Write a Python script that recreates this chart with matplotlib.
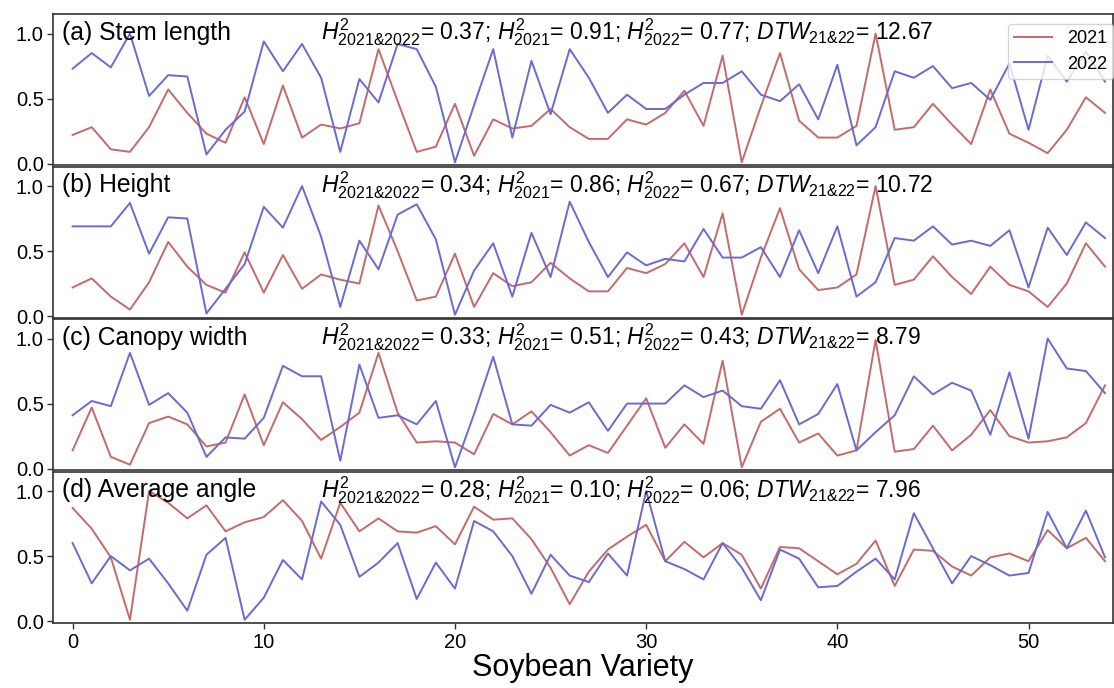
import numpy as np
import matplotlib
matplotlib.use("Agg")
import matplotlib.pyplot as plt

plt.rcParams["font.family"] = ["Liberation Sans", "DejaVu Sans"]
plt.rcParams["mathtext.fontset"] = "custom"
plt.rcParams["mathtext.rm"] = "Liberation Sans"
plt.rcParams["mathtext.it"] = "Liberation Sans:italic"
plt.rcParams["mathtext.bf"] = "Liberation Sans:bold"

variety = np.arange(55)

# Normalised trait values per soybean variety, 2021 vs 2022
stem_2021 = [0.22, 0.28, 0.11, 0.09, 0.28, 0.57, 0.39, 0.23, 0.16, 0.51,
             0.15, 0.60, 0.20, 0.30, 0.27, 0.31, 0.88, 0.48, 0.09, 0.13,
             0.46, 0.06, 0.34, 0.27, 0.29, 0.42, 0.28, 0.19, 0.19, 0.34,
             0.30, 0.39, 0.56, 0.29, 0.83, 0.01, 0.44, 0.85, 0.33, 0.20,
             0.20, 0.29, 1.00, 0.26, 0.28, 0.46, 0.30, 0.15, 0.57, 0.23,
             0.16, 0.08, 0.26, 0.51, 0.39]
stem_2022 = [0.73, 0.85, 0.74, 1.00, 0.52, 0.68, 0.67, 0.07, 0.26, 0.40,
             0.94, 0.71, 0.92, 0.66, 0.09, 0.65, 0.47, 0.92, 0.88, 0.59,
             0.01, 0.45, 0.88, 0.20, 0.79, 0.38, 0.88, 0.66, 0.39, 0.53,
             0.42, 0.42, 0.53, 0.62, 0.62, 0.71, 0.53, 0.48, 0.61, 0.34,
             0.76, 0.14, 0.28, 0.71, 0.66, 0.75, 0.58, 0.62, 0.49, 0.77,
             0.26, 0.83, 0.63, 0.86, 0.63]

height_2021 = [0.22, 0.29, 0.15, 0.05, 0.26, 0.57, 0.38, 0.24, 0.18, 0.49,
               0.18, 0.47, 0.21, 0.32, 0.28, 0.25, 0.85, 0.50, 0.12, 0.15,
               0.48, 0.07, 0.33, 0.23, 0.26, 0.41, 0.29, 0.19, 0.19, 0.37,
               0.33, 0.40, 0.56, 0.30, 0.79, 0.01, 0.45, 0.83, 0.36, 0.20,
               0.22, 0.32, 1.00, 0.24, 0.28, 0.46, 0.30, 0.17, 0.38, 0.24,
               0.19, 0.07, 0.25, 0.56, 0.38]
height_2022 = [0.69, 0.69, 0.69, 0.87, 0.48, 0.76, 0.75, 0.02, 0.21, 0.40,
               0.84, 0.68, 1.00, 0.61, 0.07, 0.58, 0.36, 0.78, 0.86, 0.59,
               0.01, 0.35, 0.56, 0.15, 0.64, 0.30, 0.88, 0.57, 0.30, 0.49,
               0.39, 0.44, 0.42, 0.67, 0.45, 0.45, 0.53, 0.30, 0.66, 0.33,
               0.69, 0.15, 0.26, 0.60, 0.58, 0.69, 0.55, 0.58, 0.54, 0.66,
               0.22, 0.68, 0.47, 0.72, 0.60]

canopy_2021 = [0.14, 0.47, 0.09, 0.03, 0.35, 0.40, 0.34, 0.17, 0.20, 0.57,
               0.18, 0.51, 0.38, 0.22, 0.32, 0.43, 0.89, 0.43, 0.20, 0.21,
               0.20, 0.11, 0.42, 0.34, 0.44, 0.28, 0.10, 0.18, 0.12, 0.33,
               0.54, 0.16, 0.34, 0.19, 0.83, 0.01, 0.36, 0.46, 0.20, 0.27,
               0.10, 0.14, 0.99, 0.13, 0.15, 0.33, 0.14, 0.26, 0.45, 0.25,
               0.20, 0.21, 0.24, 0.35, 0.64]
canopy_2022 = [0.41, 0.52, 0.48, 0.89, 0.49, 0.58, 0.43, 0.09, 0.24, 0.23,
               0.39, 0.79, 0.71, 0.71, 0.06, 0.80, 0.39, 0.41, 0.34, 0.52,
               0.01, 0.42, 0.86, 0.34, 0.33, 0.49, 0.43, 0.51, 0.29, 0.50,
               0.50, 0.50, 0.64, 0.55, 0.60, 0.48, 0.46, 0.68, 0.34, 0.42,
               0.65, 0.14, 0.28, 0.41, 0.71, 0.57, 0.66, 0.60, 0.26, 0.74,
               0.23, 1.00, 0.77, 0.75, 0.58]

angle_2021 = [0.87, 0.71, 0.49, 0.01, 1.00, 0.91, 0.79, 0.89, 0.69, 0.76,
              0.80, 0.93, 0.77, 0.48, 0.91, 0.69, 0.79, 0.69, 0.68, 0.73,
              0.59, 0.88, 0.78, 0.79, 0.63, 0.41, 0.13, 0.38, 0.55, 0.65,
              0.74, 0.46, 0.61, 0.49, 0.60, 0.51, 0.25, 0.57, 0.56, 0.46,
              0.36, 0.44, 0.62, 0.27, 0.55, 0.54, 0.42, 0.35, 0.49, 0.52,
              0.46, 0.70, 0.56, 0.64, 0.46]
angle_2022 = [0.60, 0.29, 0.50, 0.39, 0.48, 0.29, 0.08, 0.51, 0.64, 0.01,
              0.18, 0.47, 0.32, 0.92, 0.74, 0.34, 0.45, 0.60, 0.17, 0.45,
              0.25, 0.77, 0.69, 0.50, 0.21, 0.51, 0.35, 0.30, 0.52, 0.35,
              1.00, 0.46, 0.40, 0.32, 0.60, 0.41, 0.16, 0.55, 0.48, 0.26,
              0.27, 0.38, 0.48, 0.32, 0.83, 0.56, 0.29, 0.50, 0.43, 0.35,
              0.37, 0.84, 0.56, 0.85, 0.49]

panel_titles = ["(a) Stem length", "(b) Height", "(c) Canopy width", "(d) Average angle"]
h2_joint = ["0.37", "0.34", "0.33", "0.28"]
h2_2021 = ["0.91", "0.86", "0.51", "0.10"]
h2_2022 = ["0.77", "0.67", "0.43", "0.06"]
dtw = ["12.67", "10.72", "8.79", "7.96"]

series_2021 = [stem_2021, height_2021, canopy_2021, angle_2021]
series_2022 = [stem_2022, height_2022, canopy_2022, angle_2022]

color_2021 = "#c46a6a"
color_2022 = "#6a6ad2"

fig, axes = plt.subplots(4, 1, sharex=True, figsize=(11.14, 6.88), dpi=100)
fig.subplots_adjust(left=0.048, right=0.9988, top=0.979, bottom=0.095, hspace=0.012)

for k, ax in enumerate(axes):
    ax.plot(variety, series_2021[k], color=color_2021, lw=1.4, label="2021")
    ax.plot(variety, series_2022[k], color=color_2022, lw=1.4, label="2022")
    ax.set_ylim(-0.012, 1.147)
    ax.set_xlim(-1.0, 54.4)
    ax.set_yticks([0.0, 0.5, 1.0])
    ax.tick_params(axis="y", labelsize=14.5, length=4, width=1.0, color="#333333", pad=3)
    for sp in ax.spines.values():
        sp.set_color("#333333")
        sp.set_linewidth(1.2)
    ax.text(0.008, 0.832, panel_titles[k], transform=ax.transAxes,
            fontsize=17.8, va="baseline", ha="left")
    stats = (r"$H^2_{2021&2022}$= " + h2_joint[k]
             + r"; $H^2_{2021}$= " + h2_2021[k]
             + r"; $H^2_{2022}$= " + h2_2022[k]
             + r"; $DTW_{21&22}$= " + dtw[k])
    ax.text(0.253, 0.832, stats, transform=ax.transAxes,
            fontsize=16.5, va="baseline", ha="left")
    if k < 3:
        ax.tick_params(axis="x", bottom=False)

axes[-1].set_xticks([0, 10, 20, 30, 40, 50])
axes[-1].tick_params(axis="x", labelsize=14.5, length=4, width=1.0, color="#333333")
axes[-1].set_xlabel("Soybean Variety", fontsize=22, labelpad=1)

axes[0].legend(loc="upper right", bbox_to_anchor=(1.0005, 0.936), borderaxespad=0,
               fontsize=13, frameon=True, framealpha=0.8, handlelength=2.1,
               handletextpad=0.8, borderpad=0.35, labelspacing=0.45, fancybox=True)

fig.savefig("out.png", dpi=100)
